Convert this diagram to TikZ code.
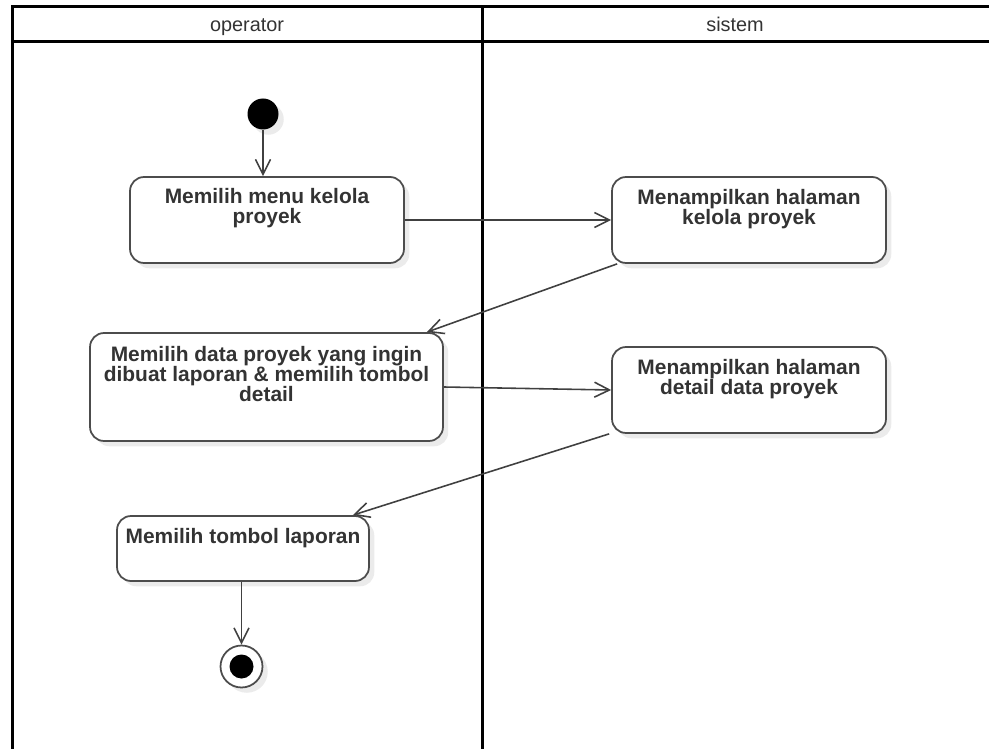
\documentclass[tikz,border=0pt]{standalone}
\usepackage{fontspec}
\setmainfont{Liberation Sans}
\usetikzlibrary{arrows.meta,shadows,positioning}
\tikzset{
  lane/.style={
    draw=black,
    line width=1.7pt
  },
  lanetitle/.style={
    anchor=base,
    text=black!80,
    font=\fontsize{11.3pt}{13pt}\selectfont
  },
  act/.style={
    shape=rectangle,
    draw=black!70,
    line width=1pt,
    rounded corners=0.28cm,
    fill=white,
    drop shadow={shadow xshift=3pt,shadow yshift=-3pt,fill=black!8,opacity=1},
    minimum width=5.48cm,
    minimum height=1.72cm
  },
  acttext/.style={
    inner sep=0pt,
    align=center,
    text=black!80,
    font=\fontsize{11.9pt}{11.4pt}\selectfont\bfseries
  },
  flow/.style={
    draw=black!75,
    line width=0.9pt,
    -{Straight Barb[length=0.3cm,width=0.3cm]}
  },
  initial/.style={
    shape=circle,
    fill=black,
    inner sep=0pt,
    minimum size=0.62cm,
    drop shadow={shadow xshift=3pt,shadow yshift=-3pt,fill=black!8,opacity=1}
  },
  final/.style={
    shape=circle,
    draw=black!70,
    line width=1pt,
    fill=white,
    inner sep=0pt,
    minimum size=0.84cm,
    drop shadow={shadow xshift=3pt,shadow yshift=-3pt,fill=black!8,opacity=1},
    path picture={\fill[black] (path picture bounding box.center) circle (0.24cm);}
  }
}

\begin{document}
\begin{tikzpicture}[x=0.02cm,y=-0.02cm]
    \useasboundingbox (0,0) rectangle (989,749);
    % swimlanes
    \draw[lane] (12.5,6.5) rectangle (990.5,760);
    \draw[lane] (12.5,41.5) -- (990.5,41.5);
    \draw[lane] (482,6.5) -- (482,760);
    \node[lanetitle] (opr) at (247,32) {operator};
    \node[lanetitle] (sis) at (735,32) {sistem};

    \node[initial] (start) at (263,114) {};
    \node[act] (b1) at (267,220) {};
    \node[act] (b2) at (749,220) {};
    \node[act,minimum width=7.06cm,minimum height=2.16cm] (b3) at (266.5,387) {};
    \node[act] (b4) at (749,390) {};
    \node[act,minimum width=5.04cm,minimum height=1.3cm] (b5) at (243,548.5) {};
    \node[final] (end) at (241.5,666.5) {};

    \node[acttext,below=0.24cm of b1.north] (t1) {Memilih menu kelola\\proyek};
    \node[acttext,below=0.26cm of b2.north] (t2) {Menampilkan halaman\\kelola proyek};
    \node[acttext,below=0.27cm of b3.north] (t3) {Memilih data proyek yang ingin\\dibuat laporan \& memilih tombol\\detail};
    \node[acttext,below=0.26cm of b4.north] (t4) {Menampilkan halaman\\detail data proyek};
    \node[acttext,below=0.26cm of b5.north] (t5) {Memilih tombol laporan};

    \draw[flow] (start) -- (start |- b1.north);
    \draw[flow] (b1.east) -- (b2.west);
    \draw[flow] ([xshift=0.12cm]b2.south west) -- ([xshift=-0.34cm]b3.north east);
    \draw[flow] (b3.east) -- (b4.west);
    \draw[flow] ([xshift=-0.04cm]b4.south west) -- ([xshift=-0.34cm]b5.north east);
    \draw[flow] (b5.south -| end) -- (end);
\end{tikzpicture}
\end{document}
